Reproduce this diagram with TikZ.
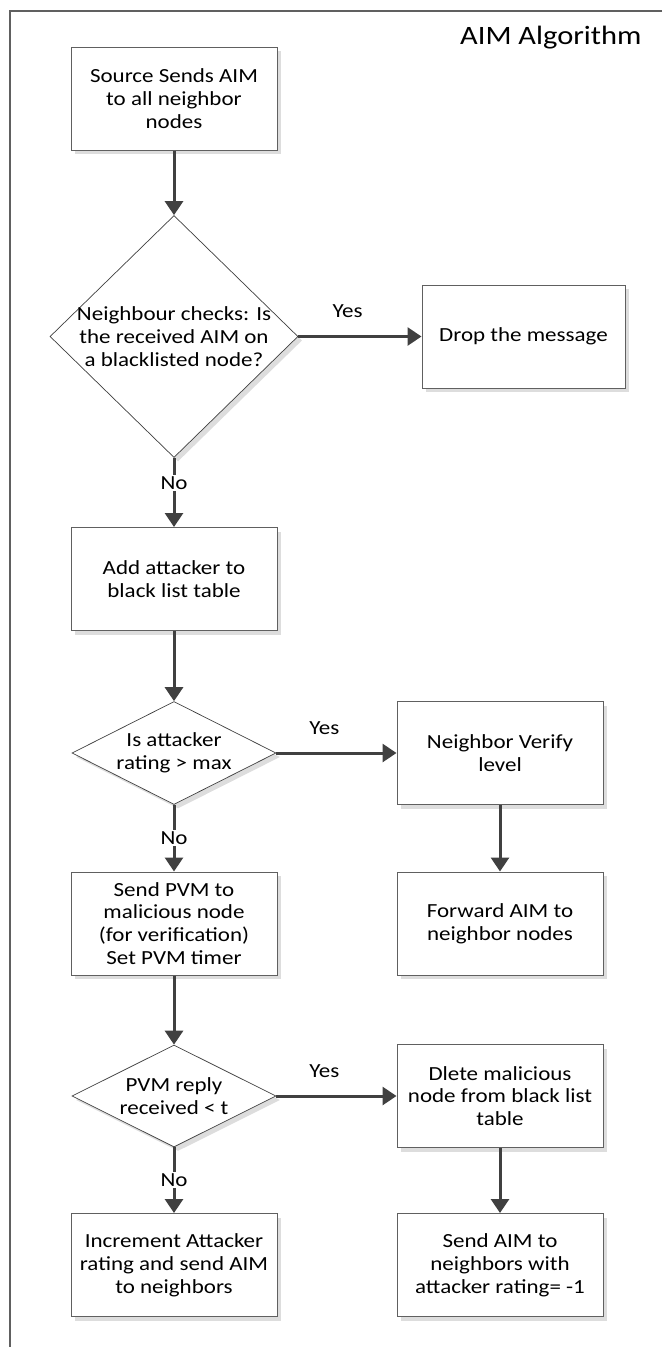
\documentclass[tikz,border=0pt]{standalone}
\usepackage{fontspec}
\setmainfont{Carlito}[FakeStretch=1.15]
\usetikzlibrary{arrows.meta,shapes.geometric,shadows}
\definecolor{arr}{HTML}{404040}
\definecolor{bord}{HTML}{606060}
\definecolor{shad}{HTML}{DDDDDD}
\begin{document}
\begin{tikzpicture}[x=1pt,y=-1pt,
  every node/.style={font=\fontsize{20}{22.8}\selectfont},
  boxshadow/.style={drop shadow={shadow xshift=4pt, shadow yshift=-4pt, fill=shad, opacity=1}},
  procbox/.style={rectangle, draw=bord, line width=1pt, fill=white, minimum width=206pt, minimum height=103pt, inner sep=0pt, align=center, boxshadow},
  decbox/.style={diamond, draw=arr, line width=0.7pt, fill=white, inner sep=0pt, boxshadow},
  flow/.style={draw=arr, line width=3pt, -{Triangle[length=14pt,width=18pt]}},
  nolbl/.style={fill=white, inner sep=1.5pt},
  yeslbl/.style={pos=0.4, yshift=25pt, inner sep=0pt}
]
\useasboundingbox (0,0) rectangle (662,1347);
\draw[bord, line width=1.2pt] (662,11) -- (10,11) -- (10,1347);
\node[anchor=base east, font=\fontsize{26.5}{30}\selectfont] (title) at (645,44) {AIM Algorithm};

% left column
\node[procbox] (b1) at (174,98.5) {Source Sends AIM\\to all neighbor\\nodes};
\node[decbox, minimum width=248pt, minimum height=242pt,
  label={[align=center]center:{Neighbour checks: Is\\the received AIM on\\a blacklisted node?}}] (d1) at (174,336.5) {};
\node[procbox] (b2) at (174,579) {Add attacker to\\black list table};
\node[decbox, minimum width=204pt, minimum height=103pt,
  label={[align=center]center:{Is attacker\\rating > max}}] (d2) at (174,753) {};
\node[procbox] (b3) at (174,923.5) {Send PVM to\\malicious node\\(for verification)\\Set PVM timer};
\node[decbox, minimum width=204pt, minimum height=102pt,
  label={[align=center]center:{PVM reply\\received < t}}] (d3) at (174,1096) {};
\node[procbox] (b4) at (174,1265) {Increment Attacker\\rating and send AIM\\to neighbors};

% right column
\node[procbox, minimum width=203pt] (drop) at (523.5,336.5) {Drop the message};
\node[procbox] (nv) at (500,753) {Neighbor Verify\\level};
\node[procbox] (fwd) at (500,923.5) {Forward AIM to\\neighbor nodes};
\node[procbox] (dl) at (500,1096) {Dlete malicious\\node from black list\\table};
\node[procbox] (sa) at (500,1265) {Send AIM to\\neighbors with\\attacker rating= -1};

% connectors
\draw[flow] (b1) -- (d1);
\draw[flow] (d1) -- node[yeslbl]{Yes} (drop);
\draw[flow] (d1) -- node[nolbl, pos=0.37]{No} (b2);
\draw[flow] (b2) -- (d2);
\draw[flow] (d2) -- node[yeslbl]{Yes} (nv);
\draw[flow] (d2) -- node[nolbl]{No} (b3);
\draw[flow] (nv) -- (fwd);
\draw[flow] (b3) -- (d3);
\draw[flow] (d3) -- node[yeslbl]{Yes} (dl);
\draw[flow] (d3) -- node[nolbl]{No} (b4);
\draw[flow] (dl) -- (sa);
\end{tikzpicture}
\end{document}
